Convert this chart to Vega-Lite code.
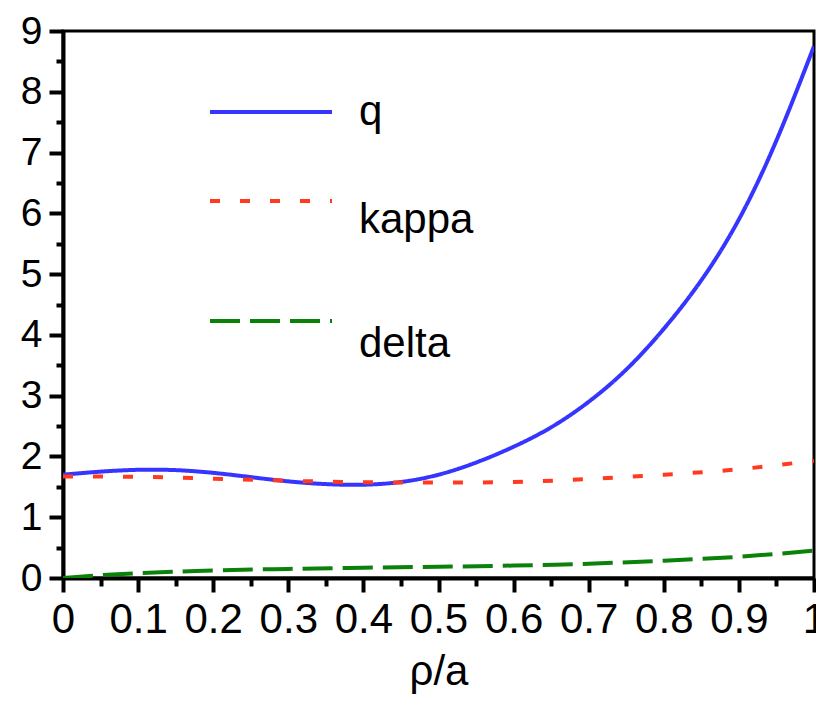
{
  "$schema": "https://vega.github.io/schema/vega-lite/v6.json",
  "autosize": "none",
  "width": 751,
  "height": 547,
  "padding": {"left": 63, "top": 31, "right": 2, "bottom": 124},
  "background": "white",
  "data": {
    "values": [
      {"series": "q", "rho": 0.0, "value": 1.70},
      {"series": "q", "rho": 0.05, "value": 1.75},
      {"series": "q", "rho": 0.1, "value": 1.78},
      {"series": "q", "rho": 0.15, "value": 1.775},
      {"series": "q", "rho": 0.2, "value": 1.73},
      {"series": "q", "rho": 0.25, "value": 1.66},
      {"series": "q", "rho": 0.3, "value": 1.59},
      {"series": "q", "rho": 0.35, "value": 1.545},
      {"series": "q", "rho": 0.4, "value": 1.535},
      {"series": "q", "rho": 0.45, "value": 1.58},
      {"series": "q", "rho": 0.5, "value": 1.70},
      {"series": "q", "rho": 0.55, "value": 1.90},
      {"series": "q", "rho": 0.6, "value": 2.16},
      {"series": "q", "rho": 0.65, "value": 2.48},
      {"series": "q", "rho": 0.7, "value": 2.9},
      {"series": "q", "rho": 0.75, "value": 3.43},
      {"series": "q", "rho": 0.8, "value": 4.1},
      {"series": "q", "rho": 0.85, "value": 4.9},
      {"series": "q", "rho": 0.9, "value": 5.9},
      {"series": "q", "rho": 0.95, "value": 7.2},
      {"series": "q", "rho": 1.0, "value": 8.75},
      {"series": "kappa", "rho": 0.0, "value": 1.67},
      {"series": "kappa", "rho": 0.1, "value": 1.665},
      {"series": "kappa", "rho": 0.2, "value": 1.635},
      {"series": "kappa", "rho": 0.3, "value": 1.60},
      {"series": "kappa", "rho": 0.4, "value": 1.575},
      {"series": "kappa", "rho": 0.5, "value": 1.57},
      {"series": "kappa", "rho": 0.6, "value": 1.58},
      {"series": "kappa", "rho": 0.7, "value": 1.63},
      {"series": "kappa", "rho": 0.8, "value": 1.70},
      {"series": "kappa", "rho": 0.9, "value": 1.79},
      {"series": "kappa", "rho": 1.0, "value": 1.93},
      {"series": "delta", "rho": 0.0, "value": 0.0},
      {"series": "delta", "rho": 0.05, "value": 0.045},
      {"series": "delta", "rho": 0.1, "value": 0.08},
      {"series": "delta", "rho": 0.2, "value": 0.125},
      {"series": "delta", "rho": 0.3, "value": 0.15},
      {"series": "delta", "rho": 0.4, "value": 0.17},
      {"series": "delta", "rho": 0.5, "value": 0.185},
      {"series": "delta", "rho": 0.6, "value": 0.205},
      {"series": "delta", "rho": 0.7, "value": 0.235},
      {"series": "delta", "rho": 0.8, "value": 0.285},
      {"series": "delta", "rho": 0.9, "value": 0.35},
      {"series": "delta", "rho": 1.0, "value": 0.45}
    ]
  },
  "mark": {"type": "line", "strokeWidth": 4, "interpolate": "natural", "clip": true},
  "encoding": {
    "x": {
      "field": "rho",
      "type": "quantitative",
      "title": "ρ/a",
      "scale": {"domain": [0, 1], "nice": false, "zero": false},
      "axis": {
        "values": [0, 0.05, 0.1, 0.15, 0.2, 0.25, 0.3, 0.35, 0.4, 0.45, 0.5, 0.55, 0.6, 0.65, 0.7, 0.75, 0.8, 0.85, 0.9, 0.95, 1],
        "format": "~g",
        "labelExpr": "round(datum.value * 100) % 10 === 0 ? datum.label : ''",
        "tickSize": {"condition": {"test": "round(datum.value * 100) % 10 === 0", "value": 14}, "value": 8},
        "labelFontSize": 42,
        "labelPadding": 7,
        "labelFlush": false,
        "labelOverlap": false,
        "titleFontSize": 42,
        "titleFontWeight": "normal",
        "titlePadding": 11
      }
    },
    "y": {
      "field": "value",
      "type": "quantitative",
      "title": null,
      "scale": {"domain": [0, 9], "nice": false},
      "axis": {
        "values": [0, 0.5, 1, 1.5, 2, 2.5, 3, 3.5, 4, 4.5, 5, 5.5, 6, 6.5, 7, 7.5, 8, 8.5, 9],
        "format": "~g",
        "labelExpr": "datum.value % 1 === 0 ? datum.label : ''",
        "tickSize": {"condition": {"test": "datum.value % 1 === 0", "value": 14}, "value": 7},
        "labelFontSize": 39,
        "labelPadding": 7,
        "labelOverlap": false,
        "labelFlush": false
      }
    },
    "color": {
      "field": "series",
      "type": "nominal",
      "title": null,
      "scale": {"domain": ["q", "kappa", "delta"], "range": ["#3535ff", "#ff3a1e", "#0a820a"]},
      "legend": {
        "encode": {
          "symbols": {
            "update": {
              "y": {"field": "size", "mult": 0.5, "offset": {"signal": "datum.label === 'kappa' ? -12 : 0"}}
            }
          },
          "labels": {
            "update": {
              "dy": {"signal": "datum.label === 'delta' ? 23 : datum.label === 'kappa' ? 7 : 0"}
            }
          }
        }
      }
    },
    "strokeDash": {
      "field": "series",
      "type": "nominal",
      "title": null,
      "scale": {"domain": ["q", "kappa", "delta"], "range": [[1, 0], [10, 20], [30, 10]]},
      "legend": {
        "encode": {
          "symbols": {
            "update": {
              "y": {"field": "size", "mult": 0.5, "offset": {"signal": "datum.label === 'kappa' ? -12 : 0"}}
            }
          },
          "labels": {
            "update": {
              "dy": {"signal": "datum.label === 'delta' ? 23 : datum.label === 'kappa' ? 7 : 0"}
            }
          }
        }
      }
    }
  },
  "config": {
    "font": "Liberation Sans",
    "view": {"stroke": "black", "strokeWidth": 3},
    "axis": {
      "grid": false,
      "domainColor": "black",
      "domainWidth": 4,
      "tickColor": "black",
      "tickWidth": 4,
      "labelColor": "black",
      "titleColor": "black",
      "labelFont": "Liberation Sans",
      "titleFont": "Liberation Sans"
    },
    "legend": {
      "orient": "none",
      "legendX": 145,
      "legendY": 18,
      "padding": 0,
      "symbolType": "stroke",
      "symbolSize": 14884,
      "symbolStrokeWidth": 4,
      "labelFont": "Liberation Sans",
      "labelFontSize": 42,
      "labelColor": "black",
      "labelOffset": 25,
      "rowPadding": 17,
      "labelLimit": 300
    }
  }
}
